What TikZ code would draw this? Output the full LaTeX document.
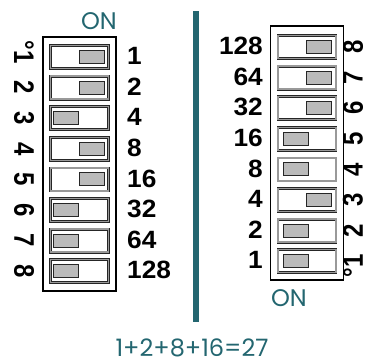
\documentclass[tikz,border=0pt]{standalone}
\usepackage{fontspec}
\setmainfont{Liberation Sans}
\newfontfamily\onfont{Poppins}
\usepackage{graphicx}
\definecolor{onteal}{HTML}{236670}
\tikzset{
  swbox/.style={draw=black!85, double=black!40, double distance=1.4pt, line width=0.7pt,
    minimum width=58pt, minimum height=23pt, inner sep=0pt},
  slider/.style={draw=black!85, fill=black!27, line width=0.9pt,
    minimum width=25pt, minimum height=13pt, inner sep=0pt},
  valnum/.style={font=\fontsize{25}{25}\selectfont\bfseries, inner sep=0pt},
  pinnum/.style={font=\fontsize{24}{24}\selectfont\bfseries, inner sep=0pt},
  ontext/.style={font=\onfont\fontsize{24}{24}\selectfont, text=onteal, inner sep=0pt},
  frame/.style={draw, line width=1.7pt, minimum width=73pt, minimum height=254pt, inner sep=0pt}
}
\begin{document}
\begin{tikzpicture}[x=1pt, y=-1pt]
  \useasboundingbox (0,0) rectangle (367,360);

  % left switch, ON to the right
  \node[frame] (lbox) at (79.5,164) {};
  \node[ontext] (lon) at (99,21) {ON};
  \foreach \i/\a/\d/\v in {1/east/-4/1, 2/east/-4/2, 3/west/3/4, 4/east/-4/8,
                           5/east/-4/16, 6/west/3/32, 7/west/3/64, 8/west/3/128} {
    \node[swbox] (ls\i) at (79.5,{57+30.6*(\i-1)}) {};
    \node[slider, anchor=\a, xshift=\d pt] (lk\i) at (ls\i.\a) {};
    \node[valnum, anchor=west] (lv\i) at (127,{56+30.6*(\i-1)}) {\scalebox{1.05}[1]{\v}};
  }
  \node[pinnum, rotate=-90] (lp1) at (24,57) {\scalebox{1}[1.18]{\llap{°}1}};
  \foreach \i in {2,...,8}
    \node[pinnum, rotate=-90] (lp\i) at (24,{57+30.6*(\i-1)}) {\scalebox{1}[1.18]{\i}};

  % divider
  \draw[onteal, line width=6pt] (195.7,11) -- (195.7,322);

  % right switch, turned round, ON to the left
  \node[frame] (rbox) at (307,153) {};
  \node[ontext] (ron) at (289,298) {ON};
  \foreach \j/\a/\d/\v in {1/east/-4/128, 2/east/-4/64, 3/east/-4/32, 4/west/5/16,
                           5/west/5/8, 6/east/-4/4, 7/west/5/2, 8/west/5/1} {
    \node[swbox] (rs\j) at (307,{47+30.6*(\j-1)}) {};
    \node[slider, anchor=\a, xshift=\d pt] (rk\j) at (rs\j.\a) {};
    \node[valnum, anchor=east] (rv\j) at (263,{46+30.6*(\j-1)}) {\scalebox{1.05}[1]{\v}};
  }
  \foreach \j/\p in {1/8, 2/7, 3/6, 4/5, 5/4, 6/3, 7/2}
    \node[pinnum, rotate=90] (rp\p) at (353,{47+30.6*(\j-1)}) {\scalebox{1}[1.18]{\p}};
  \node[pinnum, rotate=90] (rp1) at (353,261.2) {\scalebox{1}[1.18]{\llap{°}1}};

  % sum of the ON bits
  \node[ontext] (sum) at (192,348) {1+2+8+16=27};
\end{tikzpicture}
\end{document}
